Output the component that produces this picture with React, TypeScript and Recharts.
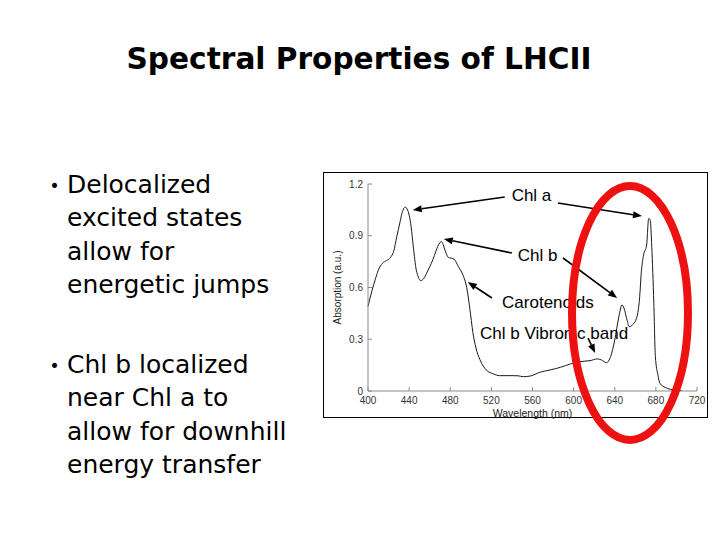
import { LineChart, Line, XAxis, YAxis, ReferenceLine, ReferenceDot } from 'recharts';

// LHCII absorption spectrum
const wavelengths = [
  400, 404, 407, 410, 414, 418, 422, 425, 428, 431, 433, 435, 436.5, 438, 440, 442, 444, 447, 449, 451,
  454, 457, 460, 463, 466, 468, 470, 471.5, 473, 475, 478, 481, 484, 488, 491, 493, 496, 499, 502, 505,
  509, 515, 522, 528, 535, 541, 546, 551, 558, 567, 577, 587, 597, 606, 616, 623, 627, 632, 636, 640,
  644, 647, 649, 652, 654, 658, 662, 664, 666, 668, 671, 673, 674.5, 676, 678, 679.5, 682, 684, 689, 694,
  700, 705,
];
const absorption = [
  0.49, 0.585, 0.645, 0.7, 0.74, 0.756, 0.775, 0.81, 0.895, 0.975, 1.03, 1.06, 1.066, 1.055, 1.02, 0.95, 0.84, 0.7, 0.66, 0.64,
  0.65, 0.683, 0.72, 0.76, 0.81, 0.84, 0.86, 0.866, 0.85, 0.815, 0.775, 0.77, 0.763, 0.72, 0.69, 0.663, 0.6, 0.48, 0.34, 0.25,
  0.18, 0.122, 0.099, 0.089, 0.089, 0.089, 0.088, 0.083, 0.087, 0.108, 0.122, 0.137, 0.157, 0.17, 0.176, 0.186, 0.18, 0.164, 0.2, 0.296,
  0.431, 0.499, 0.48, 0.41, 0.373, 0.388, 0.44, 0.528, 0.7, 0.788, 0.846, 1.0, 0.99, 0.837, 0.508, 0.2, 0.093, 0.044, 0.021, 0.01,
  0.004, 0.002,
];

const xTicks = [400, 440, 480, 520, 560, 600, 640, 680, 720];
const yTicks = [0, 0.3, 0.6, 0.9, 1.2];

// annotation arrows (tail -> head), in nm / a.u.
const arrows = [
  { from: [533, 1.125], to: [443.5, 1.049] },
  { from: [584.7, 1.09], to: [666.5, 1.014] },
  { from: [540, 0.8], to: [473.7, 0.881] },
  { from: [589.7, 0.771], to: [642.3, 0.539] },
  { from: [520.5, 0.539], to: [497.1, 0.632] },
  { from: [614.1, 0.307], to: [620.9, 0.22] },
];
const notes = [
  { text: 'Chl a', x: 559, y: 1.137 },
  { text: 'Chl b', x: 565, y: 0.79 },
  { text: 'Carotenoids', x: 575, y: 0.516 },
  { text: 'Chl b Vibronic band', x: 581, y: 0.336 },
];

const bullet1 = ['Delocalized', 'excited states', 'allow for', 'energetic jumps'];
const bullet2 = ['Chl b localized', 'near Chl a to', 'allow for downhill', 'energy transfer'];

const data = wavelengths.map((w, i) => ({ wl: w, abs: absorption[i] }));

const SANS = 'Liberation Sans, Arial, sans-serif';
const SLIDE = 'DejaVu Sans, Verdana, sans-serif';
const AXIS = '#8a8a8a';

function ArrowShape(props: any) {
  const { x1, y1, x2, y2 } = props;
  const ang = Math.atan2(y2 - y1, x2 - x1);
  const len = 9;
  const hw = 3.5;
  const bx = x2 - len * Math.cos(ang);
  const by = y2 - len * Math.sin(ang);
  const px = -Math.sin(ang) * hw;
  const py = Math.cos(ang) * hw;
  return (
    <g>
      <line x1={x1} y1={y1} x2={bx} y2={by} stroke="#000" strokeWidth={1.6} />
      <polygon points={`${x2},${y2} ${bx + px},${by + py} ${bx - px},${by - py}`} fill="#000" />
    </g>
  );
}

function Spectrum() {
  return (
    <LineChart
      width={386}
      height={247}
      data={data}
      margin={{ top: 12, right: 12, bottom: 8, left: 15 }}
    >
      <XAxis
        dataKey="wl"
        type="number"
        domain={[400, 720]}
        ticks={xTicks}
        height={20}
        tickSize={-4}
        tickMargin={10}
        axisLine={{ stroke: AXIS }}
        tickLine={{ stroke: AXIS }}
        tick={{ fontSize: 10, fill: '#333', fontFamily: SANS }}
        label={{
          content: ({ viewBox }: any) => (
            <text
              x={viewBox.x + viewBox.width / 2}
              y={viewBox.y + 26}
              textAnchor="middle"
              fontSize={10.5}
              fontFamily={SANS}
              fill="#222"
            >
              Wavelength (nm)
            </text>
          ),
        }}
      />
      <XAxis
        xAxisId="top"
        orientation="top"
        type="number"
        domain={[400, 720]}
        ticks={xTicks}
        height={0}
        tickSize={-4}
        tick={false}
        axisLine={{ stroke: AXIS }}
        tickLine={{ stroke: AXIS }}
      />
      <YAxis
        type="number"
        domain={[0, 1.2]}
        ticks={yTicks}
        width={30}
        tickSize={-4}
        tickMargin={9}
        axisLine={{ stroke: AXIS }}
        tickLine={{ stroke: AXIS }}
        tickFormatter={(v: number) => (v === 0 ? '0' : v.toFixed(1))}
        tick={{ fontSize: 10, fill: '#333', fontFamily: SANS }}
        label={{
          content: ({ viewBox }: any) => {
            const cx = viewBox.x - 1;
            const cy = viewBox.y + viewBox.height / 2;
            return (
              <text
                x={cx}
                y={cy}
                transform={`rotate(-90, ${cx}, ${cy})`}
                textAnchor="middle"
                dominantBaseline="central"
                fontSize={10}
                fontFamily={SANS}
                fill="#222"
              >
                Absorption (a.u.)
              </text>
            );
          },
        }}
      />
      <YAxis
        yAxisId="right"
        orientation="right"
        type="number"
        domain={[0, 1.2]}
        ticks={yTicks}
        width={0}
        tickSize={-4}
        tick={false}
        axisLine={{ stroke: AXIS }}
        tickLine={{ stroke: AXIS }}
      />
      <Line
        type="monotone"
        dataKey="abs"
        stroke="#1a1a1a"
        strokeWidth={1}
        dot={false}
        isAnimationActive={false}
      />
      {arrows.map((a, i) => (
        <ReferenceLine
          key={`arrow-${i}`}
          segment={[
            { x: a.from[0], y: a.from[1] },
            { x: a.to[0], y: a.to[1] },
          ]}
          ifOverflow="visible"
          shape={(p: any) => <ArrowShape {...p} />}
        />
      ))}
      {notes.map((n) => (
        <ReferenceDot
          key={n.text}
          x={n.x}
          y={n.y}
          r={0}
          fill="none"
          stroke="none"
          ifOverflow="visible"
          label={{ value: n.text, position: 'center', fill: '#000', fontSize: 17, fontFamily: SANS }}
        />
      ))}
    </LineChart>
  );
}

export default function App() {
  return (
    <div
      style={{
        position: 'fixed',
        left: 0,
        top: 0,
        width: 720,
        height: 540,
        background: '#fff',
        overflow: 'hidden',
      }}
    >
      {/* figure frame */}
      <div
        style={{
          position: 'absolute',
          left: 323,
          top: 172,
          width: 385,
          height: 246,
          border: '1.5px solid #000',
          boxSizing: 'border-box',
        }}
      />
      <div style={{ position: 'absolute', left: 323, top: 172 }}>
        <Spectrum />
      </div>

      <svg
        width={720}
        height={540}
        style={{ position: 'absolute', left: 0, top: 0, pointerEvents: 'none' }}
      >
        <text x={359} y={69} textAnchor="middle" fontFamily={SLIDE} fontWeight="bold" fontSize={29.6} fill="#000">
          Spectral Properties of LHCII
        </text>

        <text x={49.5} y={191.5} fontFamily={SLIDE} fontSize={17} fill="#000">•</text>
        {bullet1.map((t, i) => (
          <text key={t} x={67} y={193 + i * 33.4} fontFamily={SLIDE} fontSize={25} fill="#000">
            {t}
          </text>
        ))}
        <text x={49.5} y={371.5} fontFamily={SLIDE} fontSize={17} fill="#000">•</text>
        {bullet2.map((t, i) => (
          <text key={t} x={67} y={373 + i * 33.4} fontFamily={SLIDE} fontSize={25} fill="#000">
            {t}
          </text>
        ))}

        <ellipse cx={630} cy={313} rx={58} ry={127} fill="none" stroke="#ee1111" strokeWidth={8} />
      </svg>
    </div>
  );
}
